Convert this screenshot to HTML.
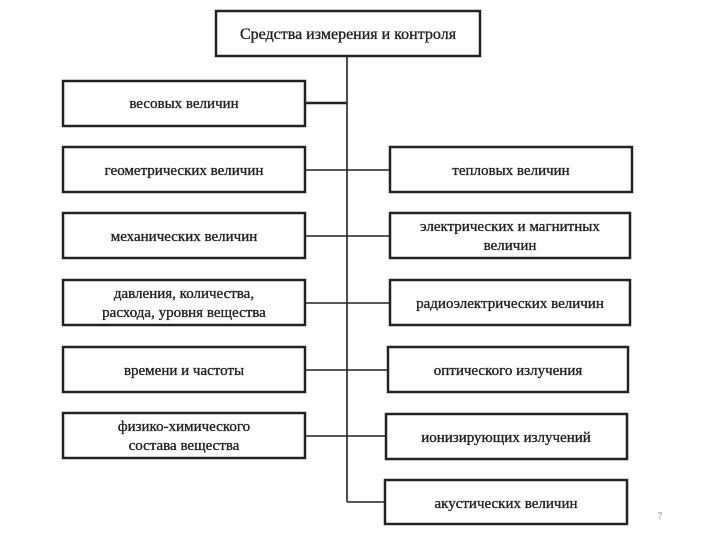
<!DOCTYPE html>
<html><head><meta charset="utf-8"><style>
html,body{margin:0;padding:0;background:#fff;width:720px;height:540px;overflow:hidden}
text{font-family:"Liberation Serif","DejaVu Serif",serif;font-size:15px;fill:#222;stroke:#222;stroke-width:0.35;text-anchor:middle}
rect{fill:#fff;stroke:#222;stroke-width:2.5}
line{stroke:#222;stroke-width:1.6}
</style></head><body>
<svg width="720" height="540" xmlns="http://www.w3.org/2000/svg">
<line x1="347" y1="56" x2="347" y2="502"/>
<line x1="305" y1="103" x2="347" y2="103" style="stroke-width:2.5"/>
<line x1="305" y1="170" x2="390" y2="170"/>
<line x1="305" y1="236" x2="390" y2="236"/>
<line x1="305" y1="303" x2="390" y2="303"/>
<line x1="305" y1="370" x2="388" y2="370"/>
<line x1="305" y1="436" x2="386" y2="436"/>
<line x1="347" y1="502" x2="385" y2="502"/>

<rect x="216" y="11" width="264" height="45"/>
<text x="348" y="39" style="font-size:16px">Средства измерения и контроля</text>

<rect x="63" y="81" width="242" height="45"/><text x="184" y="108">весовых величин</text>
<rect x="63" y="147" width="242" height="45"/><text x="184" y="175">геометрических величин</text>
<rect x="63" y="213" width="242" height="45"/><text x="184" y="241">механических величин</text>
<rect x="63" y="280" width="242" height="45"/><text x="184" y="298">давления,  количества,</text><text x="184" y="317">расхода,  уровня вещества</text>
<rect x="63" y="347" width="242" height="45"/><text x="184" y="375">времени и частоты</text>
<rect x="63" y="413" width="242" height="45"/><text x="184" y="431">физико-химического</text><text x="184" y="450">состава вещества</text>

<rect x="390" y="147" width="242" height="45"/><text x="511" y="175">тепловых величин</text>
<rect x="390" y="213" width="240" height="45"/><text x="510" y="231">электрических и магнитных</text><text x="510" y="250">величин</text>
<rect x="390" y="280" width="240" height="45"/><text x="510" y="308">радиоэлектрических величин</text>
<rect x="388" y="347" width="240" height="45"/><text x="508" y="375">оптического излучения</text>
<rect x="386" y="414" width="241" height="45"/><text x="506" y="442">ионизирующих излучений</text>
<rect x="385" y="480" width="242" height="44"/><text x="506" y="508">акустических величин</text>
<text x="660" y="519" style="font-size:9px;fill:#777;stroke:none">7</text>
</svg>
</body></html>
